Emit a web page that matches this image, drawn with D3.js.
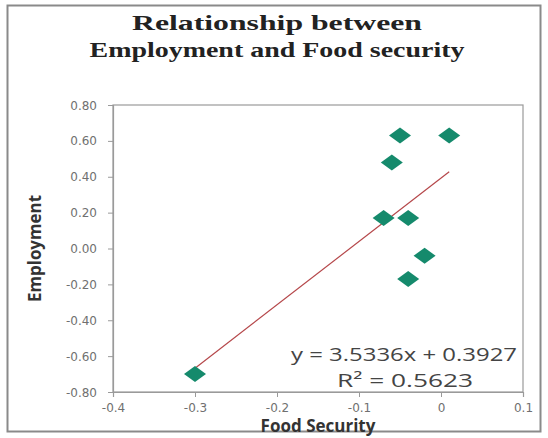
<!DOCTYPE html>
<html>
<head>
<meta charset="utf-8">
<script src="https://cdn.jsdelivr.net/npm/d3@7"></script>
<style>
  body { margin: 0; background: #fff; }
  svg { display: block; }
</style>
</head>
<body>
<svg width="548" height="438"></svg>
<script>
const foodSecurity = [-0.05, 0.01, -0.06, -0.07, -0.04, -0.02, -0.04, -0.30];
const employment   = [0.63, 0.63, 0.48, 0.17, 0.17, -0.04, -0.17, -0.70];
const xTicks = [-0.4, -0.3, -0.2, -0.1, 0, 0.1];
const yTicks = [-0.8, -0.6, -0.4, -0.2, 0, 0.2, 0.4, 0.6, 0.8];
const slope = 3.5336;
const intercept = 0.3927;
const rSquared = 0.5623;

const svg = d3.select('svg');
const width = +svg.attr('width');
const height = +svg.attr('height');

const data = foodSecurity.map((x, i) => ({ x, y: employment[i] }));

// chart frame
svg.append('rect')
  .attr('x', 7.5).attr('y', 5.5)
  .attr('width', 533).attr('height', 426)
  .attr('fill', '#fff')
  .attr('stroke', '#8a8a8a')
  .attr('stroke-width', 2);

const margin = { top: 105, left: 113, right: 25, bottom: 46 };
const innerWidth = width - margin.left - margin.right;
const innerHeight = height - margin.top - margin.bottom;

const xScale = d3.scaleLinear().domain([-0.4, 0.1]).range([0, innerWidth]);
const yScale = d3.scaleLinear().domain([-0.8, 0.8]).range([innerHeight, 0]);

const root = svg.append('g')
  .attr('transform', `translate(${margin.left}, ${margin.top})`);

// title
svg.append('text')
  .attr('x', 277).attr('y', 30)
  .attr('text-anchor', 'middle')
  .attr('font-family', 'Liberation Serif')
  .attr('font-weight', 'bold')
  .attr('font-size', 21)
  .attr('fill', '#222')
  .attr('textLength', 290).attr('lengthAdjust', 'spacingAndGlyphs')
  .text('Relationship between');
svg.append('text')
  .attr('x', 277).attr('y', 57)
  .attr('text-anchor', 'middle')
  .attr('font-family', 'Liberation Serif')
  .attr('font-weight', 'bold')
  .attr('font-size', 21)
  .attr('fill', '#222')
  .attr('textLength', 375).attr('lengthAdjust', 'spacingAndGlyphs')
  .text('Employment and Food security');

// plot border
root.append('rect')
  .attr('width', innerWidth).attr('height', innerHeight)
  .attr('fill', 'none')
  .attr('stroke', '#9a9a9a')
  .attr('stroke-width', 1.2);

const hyphen = s => s.replace('\u2212', '-');
const xAxis = d3.axisBottom(xScale)
  .tickValues(xTicks)
  .tickSize(5)
  .tickPadding(6)
  .tickFormat(d => d === 0 ? '0' : hyphen(d3.format('.1f')(d)));
const yAxis = d3.axisLeft(yScale)
  .tickValues(yTicks)
  .tickSize(5)
  .tickPadding(11)
  .tickFormat(d => hyphen(d3.format('.2f')(d)));

const xAxisGroup = root.append('g')
  .attr('transform', `translate(0, ${innerHeight})`)
  .call(xAxis);
const yAxisGroup = root.append('g').call(yAxis);

[xAxisGroup, yAxisGroup].forEach(g => {
  g.select('.domain').attr('stroke', '#9a9a9a').attr('stroke-width', 1.2);
  g.selectAll('.tick line').attr('stroke', '#9a9a9a');
  g.selectAll('.tick text')
    .attr('fill', '#707070')
    .attr('font-family', 'DejaVu Sans')
    .attr('font-size', 12)
    .attr('dy', null);
});
xAxisGroup.selectAll('.tick text').attr('y', 20);
yAxisGroup.selectAll('.tick text').attr('y', 4);

// axis titles
xAxisGroup.append('text')
  .attr('x', innerWidth / 2).attr('y', 40)
  .attr('text-anchor', 'middle')
  .attr('fill', '#333')
  .attr('font-family', 'Open Sans')
  .attr('font-weight', 'bold')
  .attr('font-size', 17)
  .text('Food Security');

yAxisGroup.append('text')
  .attr('transform', `translate(-72, ${innerHeight / 2}) rotate(-90)`)
  .attr('text-anchor', 'middle')
  .attr('fill', '#333')
  .attr('font-family', 'Open Sans')
  .attr('font-weight', 'bold')
  .attr('font-size', 17)
  .attr('textLength', 107).attr('lengthAdjust', 'spacingAndGlyphs')
  .text('Employment');

// trendline
const xMin = d3.min(foodSecurity);
const xMax = d3.max(foodSecurity);
root.append('line')
  .attr('x1', xScale(xMin)).attr('y1', yScale(slope * xMin + intercept))
  .attr('x2', xScale(xMax)).attr('y2', yScale(slope * xMax + intercept))
  .attr('stroke', '#b5474a')
  .attr('stroke-width', 1.2);

// points
const diamond = 'M-11,0 L0,-8 L11,0 L0,8 Z';
root.selectAll('path.pt')
  .data(data)
  .enter()
  .append('path')
    .attr('class', 'pt')
    .attr('d', diamond)
    .attr('transform', d => `translate(${xScale(d.x)}, ${yScale(d.y)})`)
    .attr('fill', '#158a6c');

// equation
root.append('text')
  .attr('x', 291).attr('y', 256)
  .attr('text-anchor', 'middle')
  .attr('fill', '#444')
  .attr('font-family', 'Open Sans')
  .attr('font-size', 18)
  .attr('textLength', 226).attr('lengthAdjust', 'spacingAndGlyphs')
  .text(`y = ${slope}x + ${intercept}`);
root.append('text')
  .attr('x', 292).attr('y', 282)
  .attr('text-anchor', 'middle')
  .attr('fill', '#444')
  .attr('font-family', 'Open Sans')
  .attr('font-size', 18)
  .attr('textLength', 136).attr('lengthAdjust', 'spacingAndGlyphs')
  .text(`R² = ${rSquared}`);
</script>
</body>
</html>
